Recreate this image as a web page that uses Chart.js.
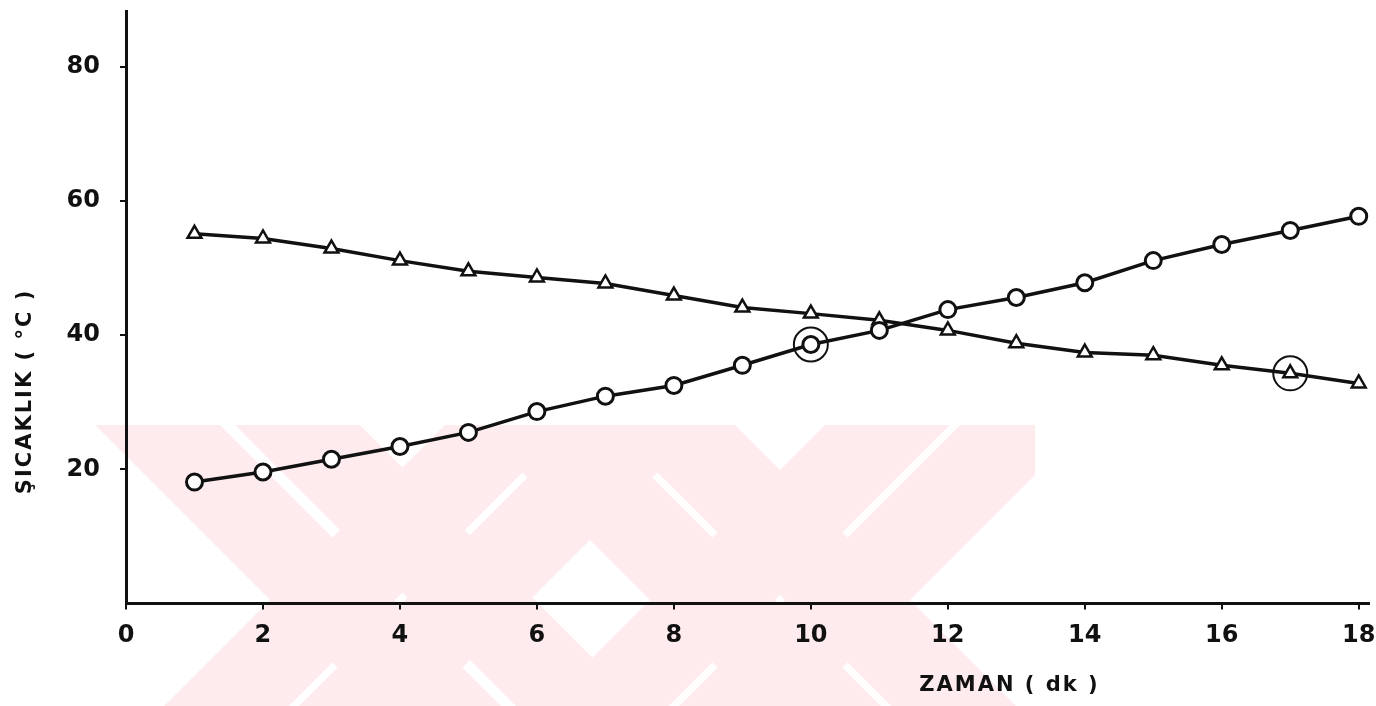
<!DOCTYPE html>
<html lang="tr">
<head>
    <meta charset="UTF-8">
    <title>Sıcaklık - Zaman</title>
    <script src="https://cdn.jsdelivr.net/npm/chart.js"></script>
    <style>
        html, body {
            margin: 0;
            padding: 0;
            background: #ffffff;
            overflow: hidden;
        }
        /* canvas is a bit larger than the window so the plot box can run
           close to the top and right edges like the scanned figure */
        #myChart {
            position: absolute;
            top: -8px;
            left: 0;
        }
    </style>
</head>
<body>
    <canvas id="myChart" width="1388" height="714"></canvas>

    <script>
        // values
        const minutes = [1, 2, 3, 4, 5, 6, 7, 8, 9, 10, 11, 12, 13, 14, 15, 16, 17, 18];
        const circleTemps = [18.1, 19.6, 21.5, 23.4, 25.5, 28.6, 30.9, 32.5, 35.5, 38.6, 40.7, 43.8, 45.6, 47.8, 51.1, 53.5, 55.6, 57.7];
        const triangleTemps = [55.1, 54.4, 52.9, 51.1, 49.5, 48.6, 47.7, 45.9, 44.1, 43.2, 42.2, 40.7, 38.8, 37.4, 37.0, 35.5, 34.3, 32.8];
        const markedCircle = 10;    // ringed point on the rising curve
        const markedTriangle = 17;  // ringed point on the falling curve
        const xTicks = [0, 2, 4, 6, 8, 10, 12, 14, 16, 18];
        const yTicks = [20, 40, 60, 80];
        const xTitle = 'ZAMAN ( dk )';
        const yTitle = 'ŞICAKLIK ( °C )';

        const ink = '#111111';
        const font = '"DejaVu Sans", sans-serif';

        const toPoints = (vals) => minutes.map((m, i) => ({ x: m, y: vals[i] }));
        const rings = [
            { x: markedCircle, y: circleTemps[minutes.indexOf(markedCircle)] },
            { x: markedTriangle, y: triangleTemps[minutes.indexOf(markedTriangle)] }
        ];

        // faint pink watermark behind the plot (bottom part of the page)
        const watermark = {
            id: 'watermark',
            beforeDraw(chart) {
                const ctx = chart.ctx;
                const dy = chart.height - 706; // page -> canvas offset
                const downBands = [[-330, -205], [-190, -65], [50, 175], [185, 310]];
                const upBands = [[870, 995], [1005, 1130], [1250, 1375], [1385, 1510]];
                ctx.save();
                ctx.translate(0, dy);
                ctx.beginPath();
                ctx.rect(95, 425, 940, 281);
                ctx.clip();
                ctx.fillStyle = '#fdebee';
                downBands.forEach(([a, b]) => {
                    ctx.beginPath();
                    ctx.moveTo(425 + a, 425);
                    ctx.lineTo(425 + b, 425);
                    ctx.lineTo(706 + b, 706);
                    ctx.lineTo(706 + a, 706);
                    ctx.closePath();
                    ctx.fill();
                });
                upBands.forEach(([a, b]) => {
                    ctx.beginPath();
                    ctx.moveTo(a - 425, 425);
                    ctx.lineTo(b - 425, 425);
                    ctx.lineTo(b - 706, 706);
                    ctx.lineTo(a - 706, 706);
                    ctx.closePath();
                    ctx.fill();
                });
                ctx.restore();
            }
        };

        // axis titles sit off-centre in the original, so draw them by hand
        const axisTitles = {
            id: 'axisTitles',
            afterDraw(chart) {
                const ctx = chart.ctx;
                const xs = chart.scales.x, ys = chart.scales.y;
                ctx.save();
                ctx.fillStyle = ink;
                ctx.font = 'bold 21px ' + font;
                ctx.letterSpacing = '2px';
                ctx.textAlign = 'center';
                ctx.textBaseline = 'middle';
                ctx.fillText(xTitle, xs.getPixelForValue(12.9), ys.bottom + 82);
                ctx.translate(26, ys.getPixelForValue(31.6));
                ctx.rotate(-Math.PI / 2);
                ctx.fillText(yTitle, 0, 0);
                ctx.restore();
            }
        };

        const ctx = document.getElementById('myChart').getContext('2d');
        const myChart = new Chart(ctx, {
            type: 'scatter',
            data: {
                datasets: [
                    {
                        label: 'ring',
                        data: rings,
                        showLine: false,
                        pointStyle: 'circle',
                        pointRadius: 17,
                        pointBorderWidth: 2,
                        pointBorderColor: ink,
                        pointBackgroundColor: 'rgba(0,0,0,0)'
                    },
                    {
                        label: 'circles',
                        data: toPoints(circleTemps),
                        showLine: true,
                        borderColor: ink,
                        borderWidth: 3.5,
                        pointStyle: 'circle',
                        pointRadius: 8,
                        pointBorderWidth: 3,
                        pointBorderColor: ink,
                        pointBackgroundColor: '#ffffff'
                    },
                    {
                        label: 'triangles',
                        data: toPoints(triangleTemps),
                        showLine: true,
                        borderColor: ink,
                        borderWidth: 3.5,
                        pointStyle: 'triangle',
                        pointRadius: 8,
                        pointBorderWidth: 2.5,
                        pointBorderColor: ink,
                        pointBackgroundColor: '#ffffff'
                    }
                ]
            },
            options: {
                responsive: false,
                animation: false,
                layout: {
                    padding: 0
                },
                plugins: {
                    legend: { display: false },
                    tooltip: { enabled: false }
                },
                scales: {
                    x: {
                        type: 'linear',
                        min: 0,
                        max: 18.15,
                        border: { color: ink, width: 3 },
                        grid: { drawOnChartArea: false, color: ink, lineWidth: 2, tickLength: 6 },
                        ticks: { color: ink, font: { family: font, size: 24, weight: 'bold' }, padding: 12, maxRotation: 0 },
                        afterBuildTicks: (scale) => { scale.ticks = xTicks.map(v => ({ value: v })); },
                        afterFit: (scale) => { scale.height = 102.5; }
                    },
                    y: {
                        min: 0,
                        max: 88.3,
                        border: { color: ink, width: 3 },
                        grid: { drawOnChartArea: false, color: ink, lineWidth: 2, tickLength: 6 },
                        ticks: { color: ink, font: { family: font, size: 24, weight: 'bold' }, padding: 20 },
                        afterBuildTicks: (scale) => { scale.ticks = yTicks.map(v => ({ value: v })); },
                        afterFit: (scale) => {
                            scale.width = 126;
                            scale.paddingTop = 0;
                            scale.paddingBottom = 0;
                        }
                    }
                }
            },
            plugins: [watermark, axisTitles]
        });
    </script>
</body>
</html>
